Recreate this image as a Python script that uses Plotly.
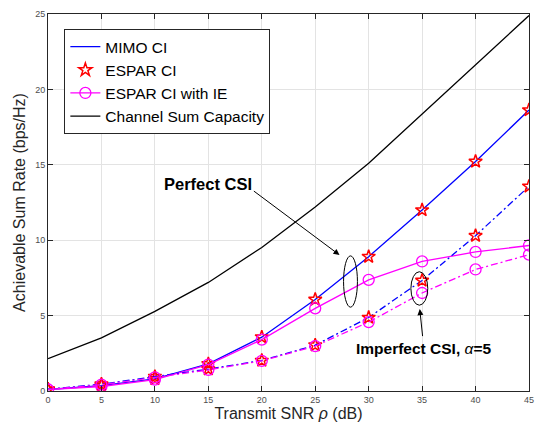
import plotly.graph_objects as go

snr = [0, 5, 10, 15, 20, 25, 30, 35, 40, 45]
capacity = [2.15, 3.52, 5.28, 7.2, 9.52, 12.2, 15.1, 18.35, 21.65, 24.9]
mimo_perfect = [0.1, 0.35, 0.8, 1.8, 3.57, 6.07, 8.91, 12.0, 15.22, 18.63]
espar_perfect = [0.1, 0.35, 0.8, 1.8, 3.57, 6.07, 8.91, 12.0, 15.22, 18.63]
ie_perfect = [0.1, 0.3, 0.75, 1.75, 3.41, 5.48, 7.37, 8.59, 9.22, 9.65]
mimo_imperfect = [0.12, 0.45, 0.95, 1.45, 2.02, 3.04, 4.87, 7.33, 10.3, 13.57]
espar_imperfect = [0.12, 0.45, 0.95, 1.45, 2.02, 3.04, 4.87, 7.33, 10.3, 13.57]
ie_imperfect = [0.1, 0.42, 0.9, 1.4, 2.0, 2.98, 4.57, 6.5, 8.06, 9.04]

x_ticks = [0, 5, 10, 15, 20, 25, 30, 35, 40, 45]
y_ticks = [0, 5, 10, 15, 20, 25]

BLUE = "#0000ff"
RED = "#ff0000"
MAG = "#ff00ff"
DASHDOT = "7px,3px,2px,3px"
FONT = "Liberation Sans, Arial, Helvetica"

fig = go.Figure()

# Perfect CSI
fig.add_trace(go.Scatter(x=snr, y=mimo_perfect, mode="lines", name="MIMO CI",
                         line=dict(color=BLUE, width=1.3)))
fig.add_trace(go.Scatter(x=snr, y=espar_perfect, mode="markers", name="ESPAR CI",
                         marker=dict(symbol="star-open", size=10, color=RED,
                                     line=dict(color=RED, width=1.5))))
fig.add_trace(go.Scatter(x=snr, y=ie_perfect, mode="lines+markers", name="ESPAR CI with IE",
                         line=dict(color=MAG, width=1.3),
                         marker=dict(symbol="circle-open", size=11, color=MAG,
                                     line=dict(color=MAG, width=1.3))))
fig.add_trace(go.Scatter(x=snr, y=capacity, mode="lines", name="Channel Sum Capacity",
                         line=dict(color="black", width=1.3)))

# Imperfect CSI
fig.add_trace(go.Scatter(x=snr, y=mimo_imperfect, mode="lines", showlegend=False,
                         line=dict(color=BLUE, width=1.3, dash=DASHDOT)))
fig.add_trace(go.Scatter(x=snr, y=espar_imperfect, mode="markers", showlegend=False,
                         marker=dict(symbol="star-open", size=10, color=RED,
                                     line=dict(color=RED, width=1.5))))
fig.add_trace(go.Scatter(x=snr, y=ie_imperfect, mode="lines+markers", showlegend=False,
                         line=dict(color=MAG, width=1.3, dash=DASHDOT),
                         marker=dict(symbol="circle-open", size=11, color=MAG,
                                     line=dict(color=MAG, width=1.3))))

axis_common = dict(
    showgrid=True, gridcolor="#e3e3e3", gridwidth=1,
    zeroline=False, showline=True, linecolor="#262626", linewidth=1,
    mirror="ticks", ticks="inside", ticklen=5, tickcolor="#262626",
    tickfont=dict(family=FONT, size=9, color="#4d4d4d"),
)

fig.update_layout(
    width=543, height=426,
    margin=dict(l=48, r=10, t=9, b=34),
    paper_bgcolor="white", plot_bgcolor="white",
    font=dict(family=FONT, color="#262626"),
    xaxis=dict(range=[0, 45], tickvals=x_ticks, ticktext=[str(v) for v in x_ticks],
               title=dict(text="Transmit SNR <i>ρ</i> (dB)", font=dict(size=16, color="#262626"),
                          standoff=1),
               **axis_common),
    yaxis=dict(range=[0, 25], tickvals=y_ticks, ticktext=[str(v) for v in y_ticks],
               title=dict(text="Achievable Sum Rate (bps/Hz)", font=dict(size=16, color="#262626"),
                          standoff=5),
               **axis_common),
    legend=dict(x=0.034, y=0.96, xanchor="left", yanchor="top",
                bgcolor="white", bordercolor="#262626", borderwidth=1,
                font=dict(family=FONT, size=15.5, color="black"),
                tracegroupgap=0, itemwidth=30),
    showlegend=True,
)

# Ellipses
fig.add_shape(type="circle", xref="x", yref="y", x0=27.65, x1=28.95, y0=5.56, y1=8.96,
              line=dict(color="black", width=1))
fig.add_shape(type="circle", xref="x", yref="y", x0=33.95, x1=35.53, y0=5.69, y1=7.91,
              line=dict(color="black", width=1))

# Arrows
fig.add_annotation(x=27.27, y=9.02, ax=19.12, ay=13.33, xref="x", yref="y",
                   axref="x", ayref="y", text="", showarrow=True,
                   arrowhead=2, arrowsize=1.2, arrowwidth=1, arrowcolor="black")
fig.add_annotation(x=34.78, y=5.43, ax=35.06, ay=3.54, xref="x", yref="y",
                   axref="x", ayref="y", text="", showarrow=True,
                   arrowhead=2, arrowsize=1.2, arrowwidth=1, arrowcolor="black")

# Labels
fig.add_annotation(x=15.0, y=13.75, xref="x", yref="y", text="<b>Perfect CSI</b>",
                   showarrow=False, font=dict(family=FONT, size=16.5, color="black"))
fig.add_annotation(x=35.15, y=2.85, xref="x", yref="y",
                   text="<b>Imperfect CSI, </b><i>α</i><b>=5</b>",
                   showarrow=False, font=dict(family=FONT, size=15.5, color="black"))

fig.write_html("out.html")
